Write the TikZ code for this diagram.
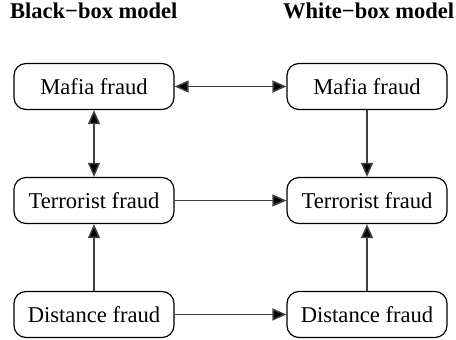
\documentclass[tikz,border=0pt]{standalone}
\usepackage{fontspec}
\setmainfont{Liberation Serif}
\usetikzlibrary{arrows.meta}
\begin{document}
\begin{tikzpicture}[x=1pt,y=-1pt,
  fbox/.style={draw=black,line width=1.2pt,rounded corners=12pt,minimum width=160pt,minimum height=46pt,inner sep=0pt,font=\fontsize{22.6}{26}\selectfont},
  title/.style={anchor=base west,inner sep=0pt,font=\fontsize{22.5}{26}\selectfont\bfseries},
  conn/.style={draw=black!75,line width=1.5pt,-{Triangle[length=14pt,width=12pt,fill=black]}},
  bconn/.style={draw=black!75,line width=1.5pt,{Triangle[length=14pt,width=12pt,fill=black]}-{Triangle[length=14pt,width=12pt,fill=black]}}]
\useasboundingbox (0,0) rectangle (456,340);
\node[title] (tb) at (10,19) {Black−box model};
\node[title] (tw) at (283,19) {White−box model};
\node[fbox] (m1) at (94,86.5) {Mafia fraud};
\node[fbox] (m2) at (367,86.5) {Mafia fraud};
\node[fbox] (t1) at (94,200.5) {Terrorist fraud};
\node[fbox] (t2) at (367,200.5) {Terrorist fraud};
\node[fbox] (d1) at (94,314.5) {Distance fraud};
\node[fbox] (d2) at (367,314.5) {Distance fraud};
\draw[bconn] (m1) -- (m2);
\draw[bconn] (m1) -- (t1);
\draw[conn] (m2) -- (t2);
\draw[conn] (t1) -- (t2);
\draw[conn] (d1) -- (t1);
\draw[conn] (d2) -- (t2);
\draw[conn] (d1) -- (d2);
\end{tikzpicture}
\end{document}
